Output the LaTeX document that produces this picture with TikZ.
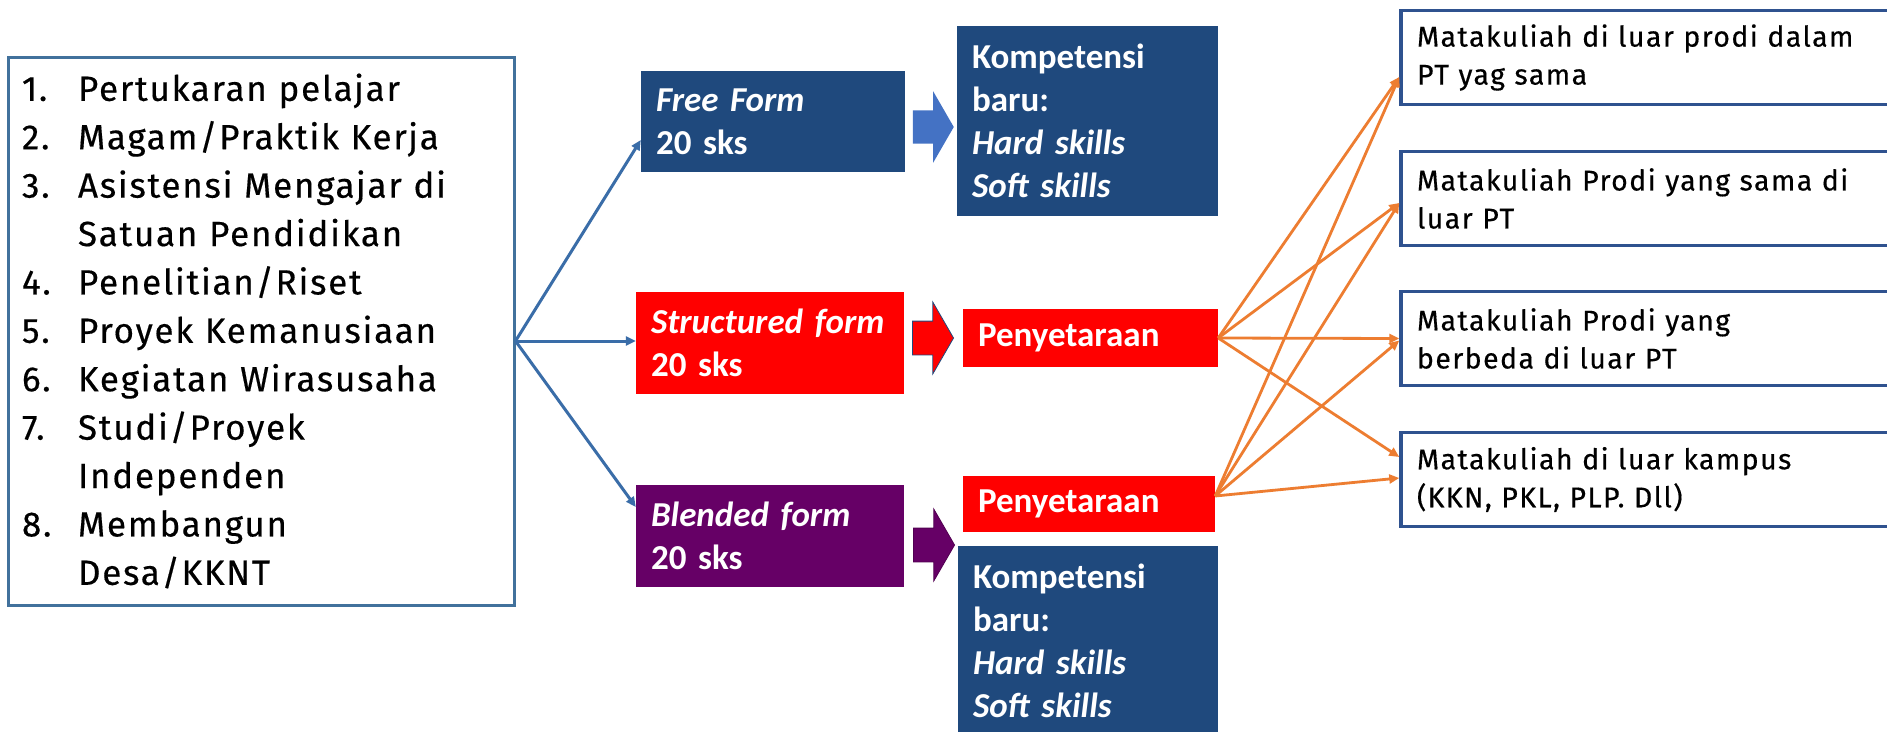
\documentclass[tikz,border=0pt]{standalone}
\usepackage{fontspec}
\setmainfont{Carlito}
\newfontfamily\listfont[LetterSpace=5,FakeBold=0.4]{Fira Sans}
\usetikzlibrary{calc,positioning,arrows.meta,shapes.arrows}
\definecolor{navy}{HTML}{1F497D}
\definecolor{plum}{HTML}{660066}
\definecolor{linkblue}{HTML}{3A6DA8}
\definecolor{boxline}{HTML}{41719C}
\definecolor{mkline}{HTML}{2F528F}
\definecolor{arrowblue}{HTML}{4472C4}
\definecolor{tangerine}{HTML}{ED7D31}
\newcommand{\lsitem}[2]{\makebox[56pt][l]{#1}#2}
\newcommand{\lsgap}{\hspace*{56pt}}
\tikzstyle{listbox}    = [rectangle, draw=boxline, line width=3pt, text width=478pt, inner xsep=14pt, minimum height=548pt, align=left, font=\listfont\fontsize{35}{48.4}\selectfont]
\tikzstyle{cbox}       = [rectangle, inner xsep=15pt, inner ysep=0pt, align=left, text=white, font=\fontsize{35}{43}\selectfont\bfseries]
\tikzstyle{mkbox}      = [rectangle, draw=mkline, line width=3.5pt, fill=white, text width=488pt, inner xsep=16pt, minimum height=94pt, align=left, font=\listfont\fontsize{28.5}{38}\selectfont]
\tikzstyle{blockarrow} = [single arrow, minimum height=41pt, minimum width=71pt, single arrow head extend=19pt, single arrow tip angle=120, inner xsep=0pt, inner ysep=16.5pt, anchor=tip]
\tikzstyle{link}       = [line width=3pt, draw=linkblue, -{Triangle[length=10pt,width=9pt]}]
\tikzstyle{olink}      = [line width=2.8pt, draw=tangerine, -{Triangle[length=10pt,width=9pt]}]

\begin{document}
\begin{tikzpicture}[x=1pt,y=-1pt]
        \useasboundingbox (0,0) rectangle (1887,731);
        \fill[white] (0,0) rectangle (1887,731);
        \clip (0,0) rectangle (1887,731);

        \node[listbox] (acts) at (261,331) {%
            \lsitem{1.}{Pertukaran pelajar}\\
            \lsitem{2.}{Magam/Praktik Kerja}\\
            \lsitem{3.}{Asistensi Mengajar di}\\
            \lsgap Satuan Pendidikan\\
            \lsitem{4.}{Penelitian/Riset}\\
            \lsitem{5.}{Proyek Kemanusiaan}\\
            \lsitem{6.}{Kegiatan Wirasusaha}\\
            \lsitem{7.}{Studi/Proyek}\\
            \lsgap Independen\\
            \lsitem{8.}{Membangun}\\
            \lsgap Desa/KKNT};

        \node[cbox, fill=navy, text width=234pt, minimum height=101pt] (free) at (773,121.5) {\textit{Free Form}\\20 sks};
        \node[cbox, fill=red, text width=238pt, minimum height=102pt] (struct) at (770,343) {\textit{Structured form}\\20 sks};
        \node[cbox, fill=plum, text width=238pt, minimum height=102pt] (blend) at (770,536) {\textit{Blended form}\\20 sks};

        \node[cbox, fill=navy, text width=231pt, minimum height=190pt] (komp1) at (1087.5,121) {Kompetensi\\baru:\\\textit{Hard skills}\\\textit{Soft skills}};
        \node[cbox, fill=red, text width=225pt, minimum height=58pt] (pen1) at (1090.5,338) {Penyetaraan};
        \node[cbox, fill=red, text width=222pt, minimum height=56pt] (pen2) at (1089,504) {Penyetaraan};
        \node[cbox, fill=navy, text width=230pt, minimum height=190pt] (komp2) at (1088,641) {Kompetensi\\baru:\\\textit{Hard skills}\\\textit{Soft skills}};

        \node[blockarrow, fill=arrowblue] (fa) at (954,127) {};
        \node[blockarrow, fill=red, draw=navy, line width=0.8pt] (sa) at (954,338) {};
        \node[blockarrow, fill=plum, draw=plum!80!black, line width=0.8pt] (ba) at (955,545) {};

        \node[mkbox] (r1) at (1661,57.5) {Matakuliah di luar prodi dalam\\PT yag sama};
        \node[mkbox] (r2) at (1661,198.5) {Matakuliah Prodi yang sama di\\luar PT};
        \node[mkbox] (r3) at (1661,338.5) {Matakuliah Prodi yang\\berbeda di luar PT};
        \node[mkbox] (r4) at (1661,479.5) {Matakuliah di luar kampus\\(KKN, PKL, PLP. Dll)};

        \coordinate (hub) at ($(acts.east)+(0,10)$);
        \draw[link] (hub) -- ($(free.west)+(0,18.5)$);
        \draw[link] (hub) -- (hub -| struct.west);
        \draw[link] (hub) -- ($(blend.west)+(0,-29)$);

        \foreach \r/\s in {r1/19.5, r2/4.5, r3/0, r4/-22.5}
            \draw[olink] (pen1.east) -- ($(\r.west)+(0,\s)$);
        \foreach \r/\s in {r1/19.5, r2/4.5, r3/2, r4/-1.5}
            \draw[olink] ($(pen2.east)+(0,-8)$) -- ($(\r.west)+(0,\s)$);
    \end{tikzpicture}
\end{document}
